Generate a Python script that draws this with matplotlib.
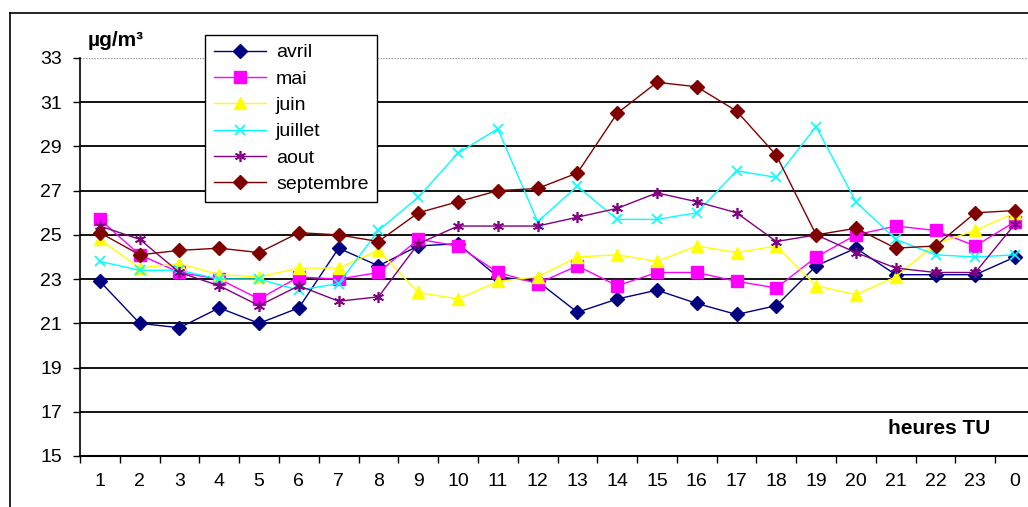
import matplotlib
matplotlib.use('Agg')
import matplotlib.pyplot as plt
from matplotlib.lines import Line2D

plt.rcParams['font.family'] = ['Liberation Sans', 'DejaVu Sans']

# heures TU (1..23 puis 0)
heures = list(range(1, 25))
etiquettes = [str(h) for h in range(1, 24)] + ['0']

# moyennes horaires par mois (µg/m3)
avril = [22.9, 21.0, 20.8, 21.7, 21.0, 21.7, 24.4, 23.6, 24.5, 24.6, 23.1, 22.9,
         21.5, 22.1, 22.5, 21.9, 21.4, 21.8, 23.6, 24.4, 23.2, 23.2, 23.2, 24.0]
mai = [25.7, 24.1, 23.3, 23.0, 22.1, 23.1, 23.0, 23.3, 24.8, 24.5, 23.3, 22.8,
       23.6, 22.7, 23.3, 23.3, 22.9, 22.6, 24.0, 25.0, 25.4, 25.2, 24.5, 25.6]
juin = [24.8, 23.5, 23.7, 23.2, 23.1, 23.5, 23.5, 24.3, 22.4, 22.1, 22.9, 23.1,
        24.0, 24.1, 23.8, 24.5, 24.2, 24.5, 22.7, 22.3, 23.1, 24.6, 25.2, 26.0]
juillet = [23.8, 23.4, 23.4, 23.0, 23.0, 22.5, 22.8, 25.2, 26.7, 28.7, 29.8, 25.6,
           27.2, 25.7, 25.7, 26.0, 27.9, 27.6, 29.9, 26.5, 24.8, 24.1, 24.0, 24.1]
aout = [25.4, 24.8, 23.3, 22.7, 21.8, 22.7, 22.0, 22.2, 24.6, 25.4, 25.4, 25.4,
        25.8, 26.2, 26.9, 26.5, 26.0, 24.7, 25.0, 24.2, 23.5, 23.3, 23.3, 25.5]
septembre = [25.1, 24.1, 24.3, 24.4, 24.2, 25.1, 25.0, 24.7, 26.0, 26.5, 27.0, 27.1,
             27.8, 30.5, 31.9, 31.7, 30.6, 28.6, 25.0, 25.3, 24.4, 24.5, 26.0, 26.1]

W, H = 1028, 507
fig = plt.figure(figsize=(W / 100, H / 100), dpi=100)
fig.patch.set_facecolor('white')

# zone de tracé (elle dépasse à droite)
ax = fig.add_axes([80 / W, (H - 456) / H, 955 / W, 398 / H])

series = [
    ('avril', avril, '#000080', 'D', 7),
    ('mai', mai, '#FF00FF', 's', 8),
    ('juin', juin, '#FFFF00', '^', 9),
    ('juillet', juillet, '#00FFFF', 'x', 7),
    ('aout', aout, '#800080', (6, 2, 0), 8),
    ('septembre', septembre, '#800000', 'D', 7),
]

# grille horizontale
for g in range(17, 33, 2):
    ax.axhline(g, color='black', lw=1.3, zorder=1)
ax.axhline(33, color='#999999', lw=1.0, ls=(0, (1, 1)), zorder=1)

for nom, vals, coul, mk, ms in series:
    mew = 1.2 if mk in ('x', (6, 2, 0)) else 1
    ax.plot(heures, vals, color=coul, lw=1.0, marker=mk, markersize=ms,
            markerfacecolor=coul, markeredgecolor=coul, markeredgewidth=mew,
            label=nom, zorder=3)

ax.set_xlim(0.5, 24.5)
ax.set_ylim(15, 33)
ax.set_yticks(range(15, 34, 2))
ax.set_xticks([k + 0.5 for k in range(0, 25)])
ax.set_xticklabels([])
ax.set_xticks(heures, minor=True)
ax.set_xticklabels(etiquettes, minor=True)
ax.tick_params(axis='x', which='major', length=5, width=1, direction='out', color='black')
ax.tick_params(axis='x', which='minor', length=0, pad=12, labelsize=14)
ax.tick_params(axis='y', length=5, width=1, direction='out', pad=8, labelsize=14)

for s in ('top', 'right'):
    ax.spines[s].set_visible(False)
ax.spines['left'].set_linewidth(1.2)
ax.spines['bottom'].set_linewidth(1.5)

leg = ax.legend(loc='upper left', bbox_to_anchor=((205 - 80) / 955, (456 - 35) / 398),
                borderaxespad=0, fontsize=14, handlelength=2.7, labelspacing=0.45,
                borderpad=0.45, handletextpad=0.5, fancybox=False, framealpha=1,
                edgecolor='black')
leg.get_frame().set_linewidth(1.0)
leg.set_zorder(5)

fig.text(88 / W, (H - 46) / H, 'µg/m³', fontsize=15, fontweight='bold', va='baseline')
fig.text(990 / W, (H - 429) / H, 'heures TU', fontsize=15, fontweight='bold',
         ha='right', va='center')

# cadre extérieur du graphique
fig.add_artist(Line2D([10 / W, 10 / W], [0, (H - 13) / H], color='black', lw=1.2))
fig.add_artist(Line2D([10 / W, 1], [(H - 13) / H, (H - 13) / H], color='black', lw=1.2))

fig.savefig('out.png', dpi=100)
